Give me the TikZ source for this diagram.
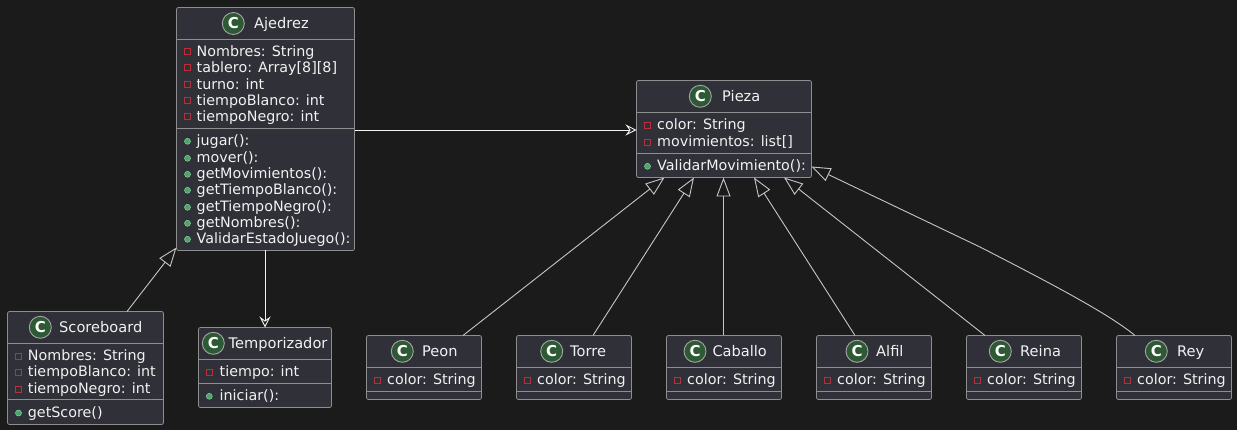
\documentclass[tikz,border=0pt]{standalone}
\usepackage{fontspec}
\setmainfont{DejaVu Sans}
\usetikzlibrary{arrows.meta,positioning}
\definecolor{bgdark}{HTML}{1B1B1B}
\definecolor{boxdark}{HTML}{2F3038}
\definecolor{boxline}{HTML}{8E8E8E}
\definecolor{textlight}{HTML}{F2F2F2}
\definecolor{circgreen}{HTML}{2D5A34}
\definecolor{privred}{HTML}{B8303A}
\definecolor{pubgreen}{HTML}{48A868}
\tikzset{classbox/.style={draw=boxline,fill=boxdark,rounded corners=2pt,line width=0.8pt,
    anchor=north west,inner sep=0pt,outer sep=0pt},
  sepline/.style={draw=boxline,line width=0.8pt},
  classcirc/.style={circle,draw=boxline!80!white,fill=circgreen,line width=0.9pt,
    minimum size=22pt,inner sep=0pt,text=white,font=\fontsize{15}{15}\selectfont\bfseries},
  titletext/.style={anchor=base west,inner sep=0pt,yshift=-0.6pt,text=textlight,font=\fontsize{14.6}{14.6}\selectfont},
  member/.style={anchor=base west,inner sep=0pt,yshift=-0.6pt,text=textlight,font=\fontsize{14.3}{14.3}\selectfont},
  privmark/.style={draw=privred,line width=0.9pt,minimum size=6pt,inner sep=0pt},
  pubmark/.style={circle,fill=pubgreen,draw=pubgreen!60!white,line width=0.5pt,minimum size=6pt,inner sep=0pt},
  uses/.style={draw=textlight,line width=0.9pt,-{Stealth[open,length=11pt,width=11pt,inset=4pt]}},
  extends/.style={draw=boxline!50!white,line width=0.9pt,-{Triangle[open,length=19pt,width=14pt]}}
}

\begin{document}
\begin{tikzpicture}[x=1pt,y=-1pt]
  \fill[bgdark] (0,0) rectangle (1237,430);
  \useasboundingbox (0,0) rectangle (1237,430);

  % Ajedrez
  \node[classbox,minimum width=178pt,minimum height=243pt] (ajedrez) at (176.5,7.5) {};
  \draw[sepline] ([yshift=-32pt]ajedrez.north west) -- ([yshift=-32pt]ajedrez.north east);
  \draw[sepline] ([yshift=-121pt]ajedrez.north west) -- ([yshift=-121pt]ajedrez.north east);
  \node[classcirc] (ajedrez_c) at (233.3,23.5) {C};
  \node[titletext] (ajedrez_t) at (254,28) {Ajedrez};
  \foreach \y/\txt in {56/Nombres: String,72/tablero: Array[8][8],89/turno: int,105/tiempoBlanco: int,121/tiempoNegro: int} {
    \node[privmark] (ajedrez_p\y) at (187.5,\y-4.3) {};
    \node[member] (ajedrez_m\y) at (196.5,\y) {\txt};
  }
  \foreach \y/\txt in {145/jugar():,162/mover():,178/getMovimientos():,194/getTiempoBlanco():,211/getTiempoNegro():,227/getNombres():,243/ValidarEstadoJuego():} {
    \node[pubmark] (ajedrez_p\y) at (187.5,\y-3.7) {};
    \node[member] (ajedrez_m\y) at (196.5,\y) {\txt};
  }

  % Pieza
  \node[classbox,minimum width=175pt,minimum height=97pt] (pieza) at (636.5,80.5) {};
  \draw[sepline] ([yshift=-32pt]pieza.north west) -- ([yshift=-32pt]pieza.north east);
  \draw[sepline] ([yshift=-73pt]pieza.north west) -- ([yshift=-73pt]pieza.north east);
  \node[classcirc] (pieza_c) at (700.3,96.3) {C};
  \node[titletext] (pieza_t) at (722,101) {Pieza};
  \foreach \y/\txt in {129/color: String,146/movimientos: list[]} {
    \node[privmark] (pieza_p\y) at (647.5,\y-3.7) {};
    \node[member] (pieza_m\y) at (657,\y) {\txt};
  }
  \node[pubmark] (pieza_p170) at (647.5,166.3) {};
  \node[member] (pieza_m170) at (657,170) {ValidarMovimiento():};

  % Scoreboard
  \node[classbox,minimum width=156pt,minimum height=113pt] (scoreboard) at (7.5,311.5) {};
  \draw[sepline] ([yshift=-32pt]scoreboard.north west) -- ([yshift=-32pt]scoreboard.north east);
  \draw[sepline] ([yshift=-88pt]scoreboard.north west) -- ([yshift=-88pt]scoreboard.north east);
  \node[classcirc] (scoreboard_c) at (40.3,327.3) {C};
  \node[titletext] (scoreboard_t) at (59,332) {Scoreboard};
  \foreach \y/\txt in {360/Nombres: String,376/tiempoBlanco: int,393/tiempoNegro: int} {
    \node[privmark] (scoreboard_p\y) at (18.5,\y-3.7) {};
    \node[member] (scoreboard_m\y) at (27.7,\y) {\txt};
  }
  \node[pubmark] (scoreboard_p417) at (18.5,413) {};
  \node[member] (scoreboard_m417) at (27.7,417) {getScore()};

  % Temporizador
  \node[classbox,minimum width=133pt,minimum height=80pt] (temporizador) at (198.5,327.5) {};
  \draw[sepline] ([yshift=-32pt]temporizador.north west) -- ([yshift=-32pt]temporizador.north east);
  \draw[sepline] ([yshift=-56pt]temporizador.north west) -- ([yshift=-56pt]temporizador.north east);
  \node[classcirc] (temporizador_c) at (213.3,343.3) {C};
  \node[titletext] (temporizador_t) at (228.5,348) {Temporizador};
  \node[privmark] (temporizador_p) at (209.3,372.3) {};
  \node[member] (temporizador_m) at (219.5,376) {tiempo: int};
  \node[pubmark] (temporizador_q) at (209.3,396.3) {};
  \node[member] (temporizador_n) at (219.5,400) {iniciar():};

  % las seis piezas
  \foreach \name/\x/\label/\cx/\tx in {peon/366.5/Peon/402.3/422,torre/516.5/Torre/551.7/570,
      caballo/666.5/Caballo/695/712.3,alfil/816.5/Alfil/857/876,
      reina/966.5/Reina/1000.3/1020,rey/1116.5/Rey/1156.3/1177} {
    \node[classbox,minimum width=115pt,minimum height=64pt] (\name) at (\x,335.5) {};
    \draw[sepline] ([yshift=-32pt]\name.north west) -- ([yshift=-32pt]\name.north east);
    \draw[sepline] ([yshift=-56pt]\name.north west) -- ([yshift=-56pt]\name.north east);
    \node[classcirc] (\name_c) at (\cx,351.3) {C};
    \node[titletext] (\name_t) at (\tx,356) {\label};
    \node[privmark] (\name_p) at (\x+11,380.5) {};
    \node[member] (\name_m) at (\x+20.5,384) {color: String};
  }

  % relaciones
  \draw[uses] ([yshift=-122.5pt]ajedrez.north east) -- ([yshift=-49.5pt]pieza.north west);
  \draw[uses] ([xshift=-0.5pt]ajedrez.south) -- (temporizador.north);
  \draw[extends] ([xshift=41.5pt]scoreboard.north) -- ([yshift=3pt]ajedrez.south west);
  \draw[extends] ([xshift=39pt]peon.north) -- ([xshift=-59.5pt]pieza.south);
  \draw[extends] ([xshift=19pt]torre.north) -- ([xshift=-30pt]pieza.south);
  \draw[extends] ([xshift=-0.5pt]caballo.north) -- ([xshift=-0.5pt]pieza.south);
  \draw[extends] ([xshift=-19pt]alfil.north) -- ([xshift=30pt]pieza.south);
  \draw[extends] ([xshift=-39pt]reina.north) -- ([xshift=60pt]pieza.south);
  \coordinate (rey_bend) at (980,247);
  \draw[extends] ([xshift=-39pt]rey.north) .. controls (1110,315) and (1060,288) .. (rey_bend) -- ([yshift=-86pt]pieza.north east);
\end{tikzpicture}
\end{document}
